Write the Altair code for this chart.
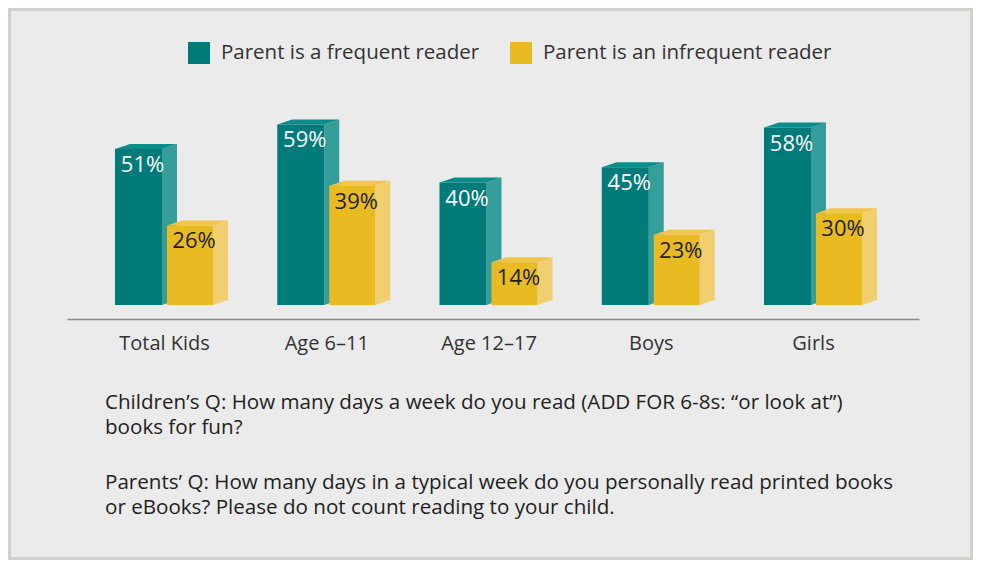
import altair as alt
import pandas as pd

# ---------------- data ----------------
categories = ["Total Kids", "Age 6–11", "Age 12–17", "Boys", "Girls"]
series = ["Parent is a frequent reader", "Parent is an infrequent reader"]
frequent = [51, 59, 40, 45, 58]
infrequent = [26, 39, 14, 23, 30]
footnote1 = ["Children’s Q: How many days a week do you read (ADD FOR 6-8s: “or look at”)",
             "books for fun?"]
footnote2 = ["Parents’ Q: How many days in a typical week do you personally read printed books",
             "or eBooks? Please do not count reading to your child."]

# ---------------- style ----------------
front_colors = ["#007b79", "#e9bb22"]
side_colors = ["#359e9b", "#f2cf6e"]
top_colors = ["#0b8d8a", "#f0c54a"]
label_colors = ["#ffffff", "#231f20"]
FONT = "Open Sans"

W, H = 852, 219
PAD = {"left": 59, "top": 92, "right": 54, "bottom": 241}
CAT_PX = 162.25                       # pixels between category centres
X_DOMAIN = [-97 / CAT_PX, -97 / CAT_PX + W / CAT_PX]
Y_DOMAIN = [-4.575, 67.0]
PCT_PX = H / (Y_DOMAIN[1] - Y_DOMAIN[0])
DX = 15 / CAT_PX                      # 3D depth, horizontal
DY = 5 / PCT_PX                       # 3D depth, vertical
OFFSETS = [(-49 / CAT_PX, -2 / CAT_PX), (3 / CAT_PX, 49 / CAT_PX)]

xs = alt.Scale(domain=X_DOMAIN, nice=False, zero=False)
ys = alt.Scale(domain=Y_DOMAIN, nice=False, zero=False)

front_rows, side_rows, top_rows = [], [], []
for s_i, (name, vals) in enumerate(zip(series, [frequent, infrequent])):
    lo, hi = OFFSETS[s_i]
    for c_i, (cat, v) in enumerate(zip(categories, vals)):
        L, R = c_i + lo, c_i + hi
        bar = f"{s_i}-{c_i}"
        front_rows.append(dict(series=name, s=s_i, category=cat, value=v, base=0,
                               x=L, x2=R, xc=(L + R) / 2, label=f"{v}%"))
        side_rows += [dict(s=s_i, bar=bar, x=R, y=v, y2=0),
                      dict(s=s_i, bar=bar, x=R + DX, y=v + DY, y2=DY)]
        top_rows += [dict(s=s_i, bar=bar, x=L, y=v, y2=v),
                     dict(s=s_i, bar=bar, x=L + DX, y=v + DY, y2=v),
                     dict(s=s_i, bar=bar, x=R, y=v + DY, y2=v),
                     dict(s=s_i, bar=bar, x=R + DX, y=v + DY, y2=v + DY)]

front_df = pd.DataFrame(front_rows)
side_df = pd.DataFrame(side_rows)
top_df = pd.DataFrame(top_rows)
one = pd.DataFrame({"k": [0]})

label_expr = "[" + ",".join("'" + c + "'" for c in categories) + "][datum.value]"

x_axis = alt.Axis(values=list(range(len(categories))), labelExpr=label_expr, title=None,
                  grid=False, ticks=False, tickSize=0, domain=True, domainColor="#8a8a8a",
                  domainWidth=1.5, labelFont=FONT, labelFontSize=20, labelColor="#333333",
                  labelPadding=14, labelFlush=False, labelOverlap=False, zindex=1)

XE = alt.X("x:Q", scale=xs, axis=x_axis)

total_w = W + PAD["left"] + PAD["right"]
total_h = H + PAD["top"] + PAD["bottom"]
border = alt.Chart(one).mark_rect(fillOpacity=0, stroke="#d4cfcf", strokeWidth=3).encode(
    x=alt.value(-PAD["left"] + 1.5), x2=alt.value(total_w - PAD["left"] - 1.5),
    y=alt.value(-PAD["top"] + 1.5), y2=alt.value(total_h - PAD["top"] - 1.5))

def faces(df, s_i, color):
    return alt.Chart(df[df.s == s_i]).mark_area(
        orient="vertical", interpolate="linear", color=color).encode(
        x=XE,
        y=alt.Y("y:Q", scale=ys, axis=None),
        y2="y2:Q",
        detail="bar:N")

front = alt.Chart(front_df).mark_rect().encode(
    x=XE,
    x2="x2:Q",
    y=alt.Y("value:Q", scale=ys, axis=None),
    y2="base:Q",
    color=alt.Color("series:N", scale=alt.Scale(domain=series, range=front_colors),
                    legend=alt.Legend(title=None, orient="none", legendX=121, legendY=-58,
                                      direction="horizontal", symbolType="M-1,-1H1V1H-1Z",
                                      symbolSize=484, symbolStrokeWidth=0, symbolOpacity=1,
                                      labelFont=FONT, labelFontSize=20.5, labelColor="#333333",
                                      labelLimit=0, labelOffset=11, columnPadding=30,
                                      padding=0)))

def labels(s_i):
    return alt.Chart(front_df[front_df.s == s_i]).mark_text(
        font=FONT, fontSize=22, fontWeight=500, dx=4, dy=16, baseline="middle",
        align="center", color=label_colors[s_i]).encode(
        x=alt.X("xc:Q", scale=xs, axis=x_axis),
        y=alt.Y("value:Q", scale=ys, axis=None),
        text="label:N")

def note(line, y):
    return alt.Chart(one).mark_text(
        text=line, align="left", baseline="alphabetic",
        font=FONT, fontSize=20.6, color="#231f20").encode(
        x=alt.value(38), y=alt.value(y))

notes = []
for para, y0 in [(footnote1, 309), (footnote2, 389)]:
    for k, line in enumerate(para):
        notes.append(note(line, y0 + 25 * k))

chart = alt.layer(
    border,
    faces(side_df, 0, side_colors[0]), faces(top_df, 0, top_colors[0]),
    faces(side_df, 1, side_colors[1]), faces(top_df, 1, top_colors[1]),
    front, labels(0), labels(1),
    *notes,
).properties(
    width=W, height=H,
    autosize=alt.AutoSizeParams(type="none"),
    padding=PAD,
    background="#ebebeb",
).configure_view(stroke=None)

chart.save("out.html", embed_options={"renderer": "svg", "actions": False})
